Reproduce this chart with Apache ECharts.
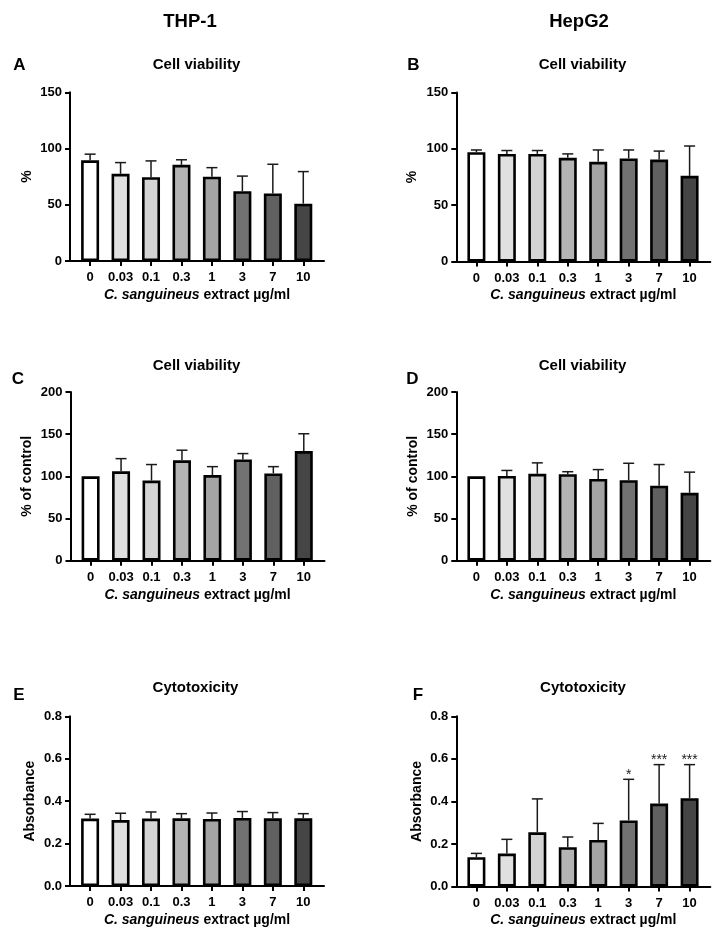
<!DOCTYPE html>
<html>
<head>
<meta charset="utf-8">
<script src="https://cdn.jsdelivr.net/npm/echarts@6/dist/echarts.min.js"></script>
<style>html,body{margin:0;padding:0;background:#fff}#c{width:724px;height:938px}</style>
</head>
<body>
<div id="c"></div>
<script>
const categories = ['0', '0.03', '0.1', '0.3', '1', '3', '7', '10'];
const barColors = ['#ffffff', '#e0e0e0', '#d4d4d4', '#b4b4b4', '#a4a4a4', '#727272', '#606060', '#454545'];

// Panel A: THP-1 cell viability (%)
const meanA = [89.5, 77.5, 74.5, 85.5, 75, 62, 60, 51];
const sdA   = [5.5, 10, 14.5, 4.5, 8, 13.5, 26, 28.5];
// Panel B: HepG2 cell viability (%)
const meanB = [97, 95.5, 95.5, 92, 88.5, 91.5, 90.5, 76];
const sdB   = [2, 3, 3, 3.5, 10.5, 7.5, 7.5, 26.5];
// Panel C: THP-1 cell viability (% of control)
const meanC = [100, 106, 95, 119, 101.5, 120, 103.5, 130];
const sdC   = [0, 15, 19, 12, 10, 7, 8, 20.5];
// Panel D: HepG2 cell viability (% of control)
const meanD = [100, 100.5, 103, 102.5, 97, 95.5, 89, 80.5];
const sdD   = [0, 6.5, 13, 3, 11, 20, 25, 24.5];
// Panel E: THP-1 cytotoxicity (absorbance)
const meanE = [0.318, 0.311, 0.318, 0.319, 0.316, 0.321, 0.319, 0.319];
const sdE   = [0.020, 0.032, 0.031, 0.022, 0.028, 0.030, 0.027, 0.022];
// Panel F: HepG2 cytotoxicity (absorbance)
const meanF = [0.138, 0.155, 0.255, 0.185, 0.219, 0.311, 0.390, 0.415];
const sdF   = [0.018, 0.067, 0.157, 0.048, 0.078, 0.193, 0.183, 0.158];
const sigF  = ['', '', '', '', '', '*', '***', '***'];

const FF = '"Liberation Sans", Arial, Helvetica, sans-serif';

const panels = [
  {mean: meanA, sd: sdA, max: 150, interval: 50, dec: 0, yName: '%', nameGap: 36, grid: {left: 70, top: 92.3, width: 254, height: 168.7}},
  {mean: meanB, sd: sdB, max: 150, interval: 50, dec: 0, yName: '%', nameGap: 37, grid: {left: 456.3, top: 92.5, width: 254, height: 169}},
  {mean: meanC, sd: sdC, max: 200, interval: 50, dec: 0, yName: '% of control', nameGap: 36, grid: {left: 70.5, top: 392, width: 254, height: 168.7}},
  {mean: meanD, sd: sdD, max: 200, interval: 50, dec: 0, yName: '% of control', nameGap: 36, grid: {left: 456.3, top: 392, width: 254, height: 168.7}},
  {mean: meanE, sd: sdE, max: 0.8, interval: 0.2, dec: 1, yName: 'Absorbance', nameGap: 33, grid: {left: 70, top: 716.3, width: 254, height: 169.7}},
  {mean: meanF, sd: sdF, sig: sigF, max: 0.8, interval: 0.2, dec: 1, yName: 'Absorbance', nameGap: 32, grid: {left: 456.3, top: 716.3, width: 254, height: 170.3}}
];

const idx = categories.map((_, i) => i);
const grids = [], xAxes = [], yAxes = [], series = [];

panels.forEach((p, i) => {
  grids.push(Object.assign({containLabel: false}, p.grid));
  xAxes.push({
    type: 'value', gridIndex: i, min: -0.66, max: 7.68,
    axisLine: {show: true, onZero: false, lineStyle: {color: '#000', width: 2}},
    axisTick: {show: true, customValues: idx, length: 5, lineStyle: {color: '#000', width: 2}},
    axisLabel: {customValues: idx, formatter: v => categories[Math.round(v)], margin: 10,
      fontSize: 13, fontWeight: 'bold', color: '#000', fontFamily: FF},
    splitLine: {show: false},
    name: '{i|C. sanguineus} extract µg/ml', nameLocation: 'middle', nameGap: 27,
    nameTextStyle: {fontSize: 14, fontWeight: 'bold', color: '#000', fontFamily: FF,
      rich: {i: {fontSize: 14, fontWeight: 'bold', fontStyle: 'italic', color: '#000', fontFamily: FF}}}
  });
  yAxes.push({
    type: 'value', gridIndex: i, min: 0, max: p.max, interval: p.interval,
    axisLine: {show: true, onZero: false, lineStyle: {color: '#000', width: 2}},
    axisTick: {show: true, length: 5, lineStyle: {color: '#000', width: 2}},
    axisLabel: {margin: 8, fontSize: 13, fontWeight: 'bold', color: '#000', fontFamily: FF,
      formatter: v => p.dec ? v.toFixed(p.dec) : String(v)},
    splitLine: {show: false},
    name: p.yName, nameLocation: 'middle', nameGap: p.nameGap, nameRotate: 90,
    nameTextStyle: {fontSize: 14, fontWeight: 'bold', color: '#000', fontFamily: FF}
  });
  series.push({
    type: 'bar', xAxisIndex: i, yAxisIndex: i, barWidth: 18, silent: true,
    itemStyle: {borderColor: '#000', borderWidth: 2.6},
    data: p.mean.map((v, j) => ({value: [j, v], itemStyle: {color: barColors[j]}})),
    z: 2
  });
  series.push({
    type: 'custom', xAxisIndex: i, yAxisIndex: i, silent: true, z: 3,
    data: p.mean.map((v, j) => [j, v, v + p.sd[j]]),
    renderItem: (params, api) => {
      const x = api.value(0), m = api.value(1), t = api.value(2);
      const children = [];
      if (t > m) {
        const b = api.coord([x, m]), tp = api.coord([x, t]);
        children.push({type: 'line', shape: {x1: b[0], y1: b[1], x2: tp[0], y2: tp[1]},
          style: {stroke: '#1a1a1a', lineWidth: 1.5}});
        children.push({type: 'line', shape: {x1: tp[0] - 5.5, y1: tp[1], x2: tp[0] + 5.5, y2: tp[1]},
          style: {stroke: '#1a1a1a', lineWidth: 1.5}});
        const s = p.sig ? p.sig[params.dataIndex] : '';
        if (s) {
          children.push({type: 'text', x: tp[0], y: tp[1] - 4,
            style: {text: s, align: 'center', verticalAlign: 'middle', textAlign: 'center', textVerticalAlign: 'middle',
              font: '14px ' + FF, fill: '#222'}});
        }
      }
      return {type: 'group', children};
    }
  });
});

function txt(t, x, y, size) {
  return {type: 'text', x: x, y: y, silent: true,
    style: {text: t, align: 'center', verticalAlign: 'middle', textAlign: 'center', textVerticalAlign: 'middle',
      font: 'bold ' + size + 'px ' + FF, fill: '#000'}};
}

const graphics = [
  txt('THP-1', 190, 22, 18.5), txt('HepG2', 579, 22, 18.5),
  txt('A', 19.3, 65.7, 17), txt('Cell viability', 196.5, 64.5, 15),
  txt('B', 413.5, 65.7, 17), txt('Cell viability', 582.5, 64.5, 15),
  txt('C', 18, 379, 17), txt('Cell viability', 196.5, 365.5, 15),
  txt('D', 412.5, 379, 17), txt('Cell viability', 582.5, 365.5, 15),
  txt('E', 19, 695, 17), txt('Cytotoxicity', 195.5, 688, 15),
  txt('F', 418, 695, 17), txt('Cytotoxicity', 583, 688, 15)
];

const chart = echarts.init(document.getElementById('c'), null, {renderer: 'canvas'});
chart.setOption({
  animation: false,
  backgroundColor: '#fff',
  textStyle: {fontFamily: FF},
  grid: grids, xAxis: xAxes, yAxis: yAxes, series: series,
  graphic: graphics
});
</script>
</body>
</html>
